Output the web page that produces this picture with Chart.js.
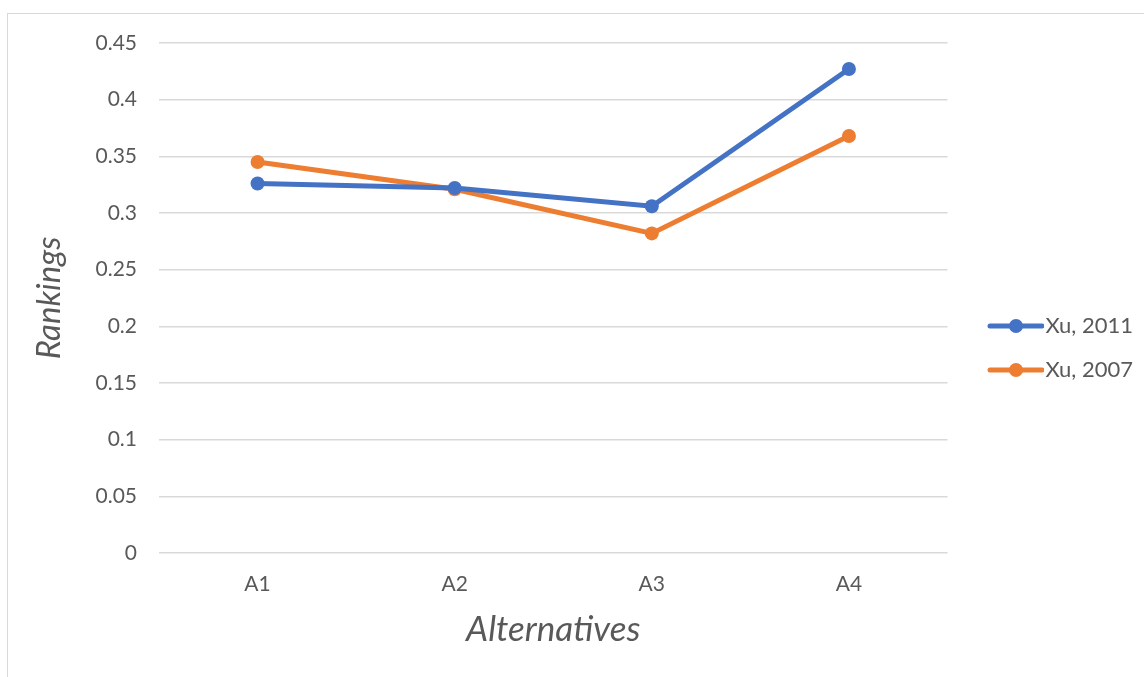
<!DOCTYPE html>
<html>
<head>
<meta charset="utf-8">
<script src="https://cdn.jsdelivr.net/npm/chart.js@4.4.1/dist/chart.umd.min.js"></script>
<style>
  html, body { margin: 0; padding: 0; background: #fff; }
  #wrap { position: relative; width: 1144px; height: 677px; overflow: hidden; }
  #frame { position: absolute; left: 7px; top: 13px; width: 1200px; height: 700px; border: 1.5px solid #d9d9d9; box-sizing: border-box; }
  #c { position: absolute; left: 0; top: 0; }
</style>
</head>
<body>
<div id="wrap">
  <div id="frame"></div>
  <canvas id="c" width="1144" height="677"></canvas>
</div>
<script>
const categories = ['A1', 'A2', 'A3', 'A4'];
const xu2011 = [0.326, 0.322, 0.306, 0.427];
const xu2007 = [0.345, 0.321, 0.282, 0.368];
const seriesNames = ['Xu, 2011', 'Xu, 2007'];
const yTicks = [0, 0.05, 0.1, 0.15, 0.2, 0.25, 0.3, 0.35, 0.4, 0.45];

const BLUE = '#4472C4';
const ORANGE = '#ED7D31';
const FONT = "Lato, 'Noto Sans', sans-serif";

// legend marker: line with a dot, drawn on the right part of a transparent canvas
function legendIcon(color) {
  const c = document.createElement('canvas');
  c.width = 84; c.height = 16;
  const g = c.getContext('2d');
  g.strokeStyle = color; g.lineWidth = 5; g.lineCap = 'round';
  g.beginPath(); g.moveTo(30, 8); g.lineTo(82, 8); g.stroke();
  g.fillStyle = color;
  g.beginPath(); g.arc(56, 8, 7, 0, Math.PI * 2); g.fill();
  return c;
}
const icons = [legendIcon(BLUE), legendIcon(ORANGE)];

new Chart(document.getElementById('c'), {
  type: 'line',
  data: {
    labels: categories,
    datasets: [
      { label: seriesNames[0], data: xu2011, borderColor: BLUE, backgroundColor: BLUE,
        borderWidth: 5, pointRadius: 7, pointHoverRadius: 7, pointBackgroundColor: BLUE, pointBorderWidth: 0, tension: 0, pointStyle: 'circle' },
      { label: seriesNames[1], data: xu2007, borderColor: ORANGE, backgroundColor: ORANGE,
        borderWidth: 5, pointRadius: 7, pointHoverRadius: 7, pointBackgroundColor: ORANGE, pointBorderWidth: 0, tension: 0, pointStyle: 'circle' }
    ]
  },
  options: {
    responsive: false,
    animation: false,
    layout: { padding: { left: 0, right: 1, top: 43, bottom: 24 } },
    plugins: {
      tooltip: { enabled: false },
      legend: {
        position: 'right',
        labels: {
          usePointStyle: true,
          pointStyleWidth: 65,
          padding: 22,
          color: '#595959',
          font: { family: FONT, size: 22 },
          generateLabels: (chart) => chart.data.datasets.map((ds, i) => ({
            text: ds.label, pointStyle: icons[i], fillStyle: ds.borderColor, strokeStyle: ds.borderColor,
            lineWidth: 0, hidden: false, datasetIndex: i, fontColor: '#595959'
          }))
        }
      }
    },
    scales: {
      x: {
        offset: true,
        grid: { display: false, drawTicks: false },
        border: { display: false },
        ticks: { color: '#595959', font: { family: FONT, size: 21 }, padding: 19 },
        title: { display: true, text: 'Alternatives', color: '#595959',
                 font: { family: FONT, size: 35, style: 'italic' }, padding: { top: 10, bottom: 2 } },
        afterFit: (s) => { s.height = 100; }
      },
      y: {
        min: 0, max: 0.45,
        afterBuildTicks: (s) => { s.ticks = yTicks.map(v => ({ value: v })); },
        grid: { color: '#d9d9d9', lineWidth: 1.5, drawTicks: false },
        border: { display: false },
        ticks: { color: '#595959', font: { family: FONT, size: 21 }, padding: 22,
                 callback: (v) => String(v) },
        title: { display: true, text: 'Rankings', color: '#595959',
                 font: { family: FONT, size: 33, style: 'italic' }, padding: { top: 30, bottom: 0 } },
        afterFit: (s) => { s.width = 159; }
      }
    }
  }
});
</script>
</body>
</html>
